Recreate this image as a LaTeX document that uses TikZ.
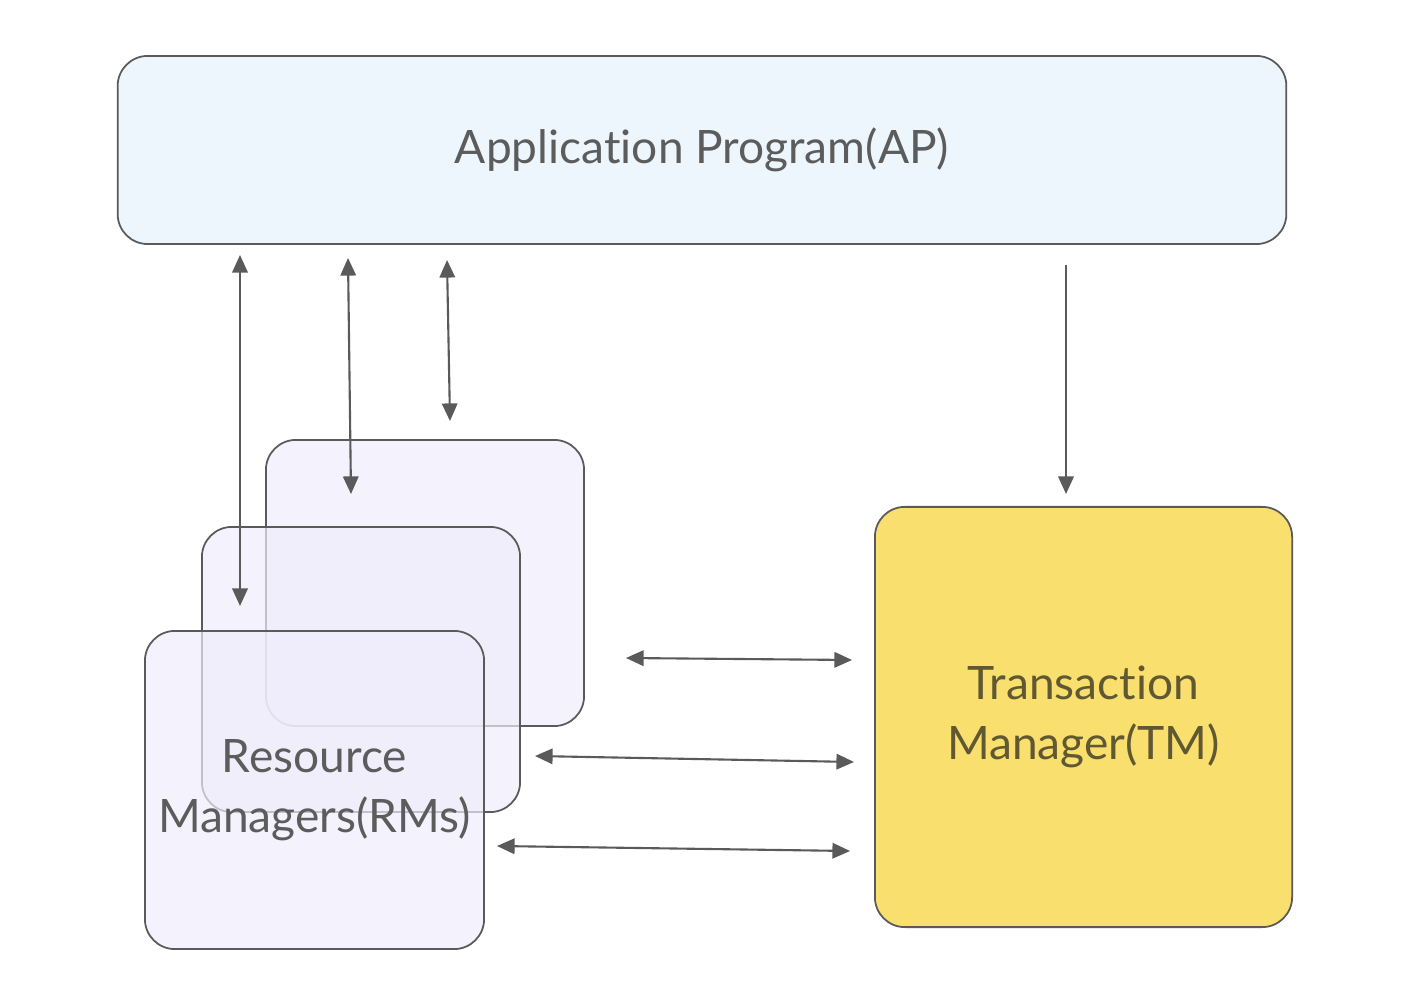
\documentclass[tikz,border=0pt]{standalone}
\usepackage{fontspec}
\setmainfont{Lato}[Ligatures={NoCommon}]
\usetikzlibrary{arrows.meta}

\definecolor{apfill}{HTML}{EEF6FD}
\definecolor{rmfill}{RGB}{239,236,251}
\definecolor{tmfill}{HTML}{F9DF6D}
\definecolor{edge}{HTML}{5A5A5A}
\definecolor{txt}{HTML}{5C5C5C}
\definecolor{tmtxt}{HTML}{605832}

\tikzset{
  box/.style={draw=edge, line width=0.5pt, rounded corners=0.3cm, align=center,
    inner sep=0pt, font=\fontsize{13.1}{17}\selectfont, text=txt},
  rmbox/.style={box, fill=rmfill, fill opacity=0.7, text opacity=1,
    minimum width=3.18cm, minimum height=2.86cm},
  link/.style={draw=edge, line width=0.6pt, {Triangle[length=5pt,width=4.4pt]}-{Triangle[length=5pt,width=4.4pt]}},
  oneway/.style={draw=edge, line width=0.6pt, -{Triangle[length=5pt,width=4.4pt]}}
}

\begin{document}
\begin{tikzpicture}[x=0.01cm, y=-0.01cm]
        \useasboundingbox (0,0) rectangle (1416,992);

        % Application program on top
        \node[box, fill=apfill, minimum width=11.68cm, minimum height=1.88cm] (ap) at (702,150) {Application Program(AP)};

        % Stack of resource managers (back to front)
        \node[rmbox] (rmback) at (425,583) {};
        \node[rmbox, minimum height=2.85cm] (rmmid) at (361,669.5) {};
        \node[rmbox, minimum width=3.39cm, minimum height=3.18cm] (rmfront) at (314.5,790) {Resource\\Managers(RMs)};

        % Transaction manager
        \node[box, fill=tmfill, text=tmtxt, minimum width=4.17cm, minimum height=4.2cm] (tm) at (1083.5,717) {Transaction\\Manager(TM)};

        % Arrow ends
        \coordinate (ap-a) at (240,255);
        \coordinate (rm-a) at (240,606);
        \coordinate (ap-b) at (348,258);
        \coordinate (rm-b) at (351,494);
        \coordinate (ap-c) at (447,260);
        \coordinate (rm-c) at (450,421);
        \coordinate (ap-d) at (1066,265);
        \coordinate (tm-d) at (1066,494);
        \coordinate (rm-e) at (626,658);
        \coordinate (tm-e) at (852,660);
        \coordinate (rm-f) at (535,756);
        \coordinate (tm-f) at (854,762);
        \coordinate (rm-g) at (497,846);
        \coordinate (tm-g) at (850,851);

        % AP <-> RMs
        \draw[link] (ap-a) -- (rm-a);
        \draw[link] (ap-b) -- (rm-b);
        \draw[link] (ap-c) -- (rm-c);

        % AP -> TM
        \draw[oneway] (ap-d) -- (tm-d);

        % RMs <-> TM
        \draw[link] (rm-e) -- (tm-e);
        \draw[link] (rm-f) -- (tm-f);
        \draw[link] (rm-g) -- (tm-g);

    \end{tikzpicture}
\end{document}
